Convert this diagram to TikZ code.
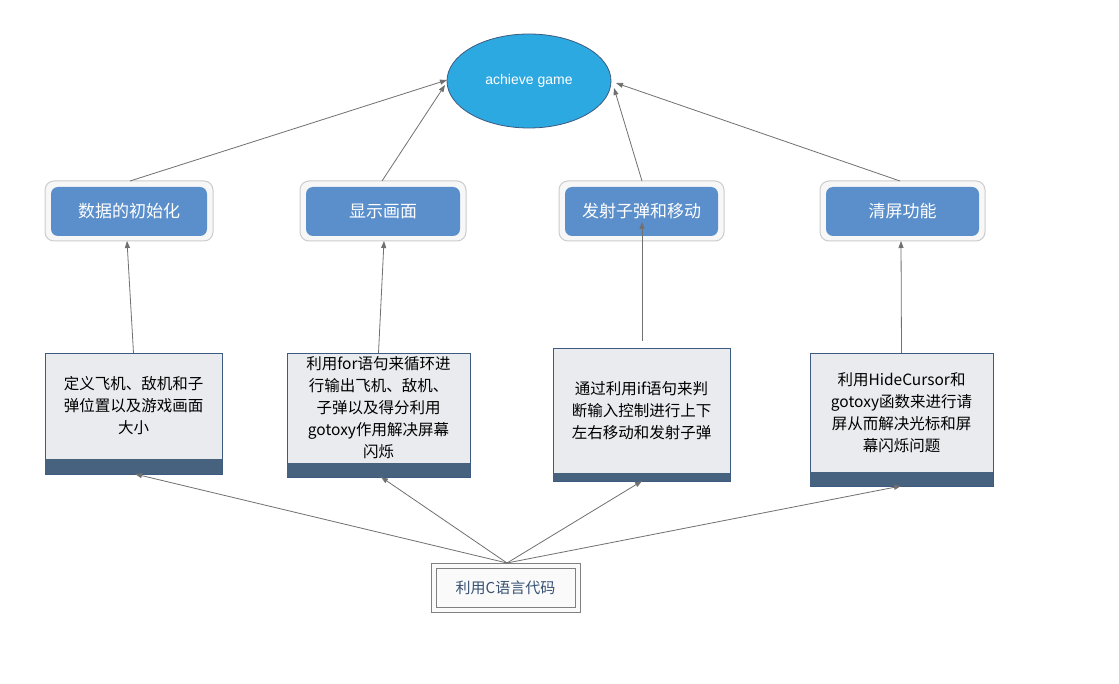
\documentclass[tikz,border=0pt]{standalone}
\usepackage{fontspec}
\setmainfont{Liberation Sans}
\newfontfamily\cjk{Noto Sans CJK SC}
\usetikzlibrary{shapes.geometric,arrows.meta}
\definecolor{hblue}{HTML}{5B8FCB}
\definecolor{ebl}{HTML}{2DA9E1}
\definecolor{lfill}{HTML}{E9EBEF}
\definecolor{lbord}{HTML}{3D5A80}
\definecolor{lbar}{HTML}{46627F}
\definecolor{lgray}{HTML}{707070}
\tikzset{
 conn/.style={draw=lgray,line width=0.8pt,-{Triangle[length=7pt,width=5pt]}},
 hdr/.style={draw=none,fill=hblue,rounded corners=7pt,text=white,font=\cjk\fontsize{17}{20}\selectfont},
}
\begin{document}
\begin{tikzpicture}[x=1pt,y=-1pt]
\useasboundingbox (0,0) rectangle (1119,684);
\fill[white] (0,0) rectangle (1119,684);
% ellipse
\node[ellipse,draw=lbord,fill=ebl,minimum width=164pt,minimum height=94pt,text=white,font=\fontsize{14}{16}\selectfont,line width=0.8pt] (goal) at (529,81) {achieve game};
% header boxes
\foreach \n/\a/\b/\t in {h1/45/213/数据的初始化,h2/300/466/显示画面,h3/559/724/发射子弹和移动,h4/820/985/清屏功能}{
 \draw[draw=gray!40,fill=gray!6,rounded corners=9pt,line width=1pt] (\a,181) rectangle (\b,241);
 \node[hdr,minimum width={\b-\a-12},minimum height=49pt] (\n) at ({(\a+\b)/2},211.5) {\t};
 \coordinate (\n t) at ({(\a+\b)/2},181);
}
% lower boxes
\newcommand\lbox[7]{%
 \draw[draw=lbord,fill=lfill,line width=0.8pt] (#2,#3) rectangle (#4,#5);
 \fill[lbar] (#2,#6) rectangle (#4,#5);
 \node[align=center,font=\cjk\fontsize{15.5}{22}\selectfont,inner sep=0pt] (#1) at ({(#2+#4)/2},{(#3+#6)/2}) {#7};
 \coordinate (#1t) at ({(#2+#4)/2},#3);
 \coordinate (#1b) at ({(#2+#4)/2},#5);
}
\lbox{l1}{45}{353}{222}{474}{459}{定义飞机、敌机和子\\弹位置以及游戏画面\\大小}
\lbox{l2}{287}{353}{470}{477}{463}{利用for语句来循环进\\行输出飞机、敌机、\\子弹以及得分利用\\gotoxy作用解决屏幕\\闪烁}
\lbox{l3}{553}{348}{730}{481}{473}{通过利用if语句来判\\断输入控制进行上下\\左右移动和发射子弹}
\lbox{l4}{810}{353}{993}{486}{472}{利用HideCursor和\\gotoxy函数来进行请\\屏从而解决光标和屏\\幕闪烁问题}
% bottom node
\draw[draw=gray,fill=gray!4,line width=0.8pt] (431,563) rectangle (580,612);
\node[draw=gray,line width=0.6pt,minimum width=139pt,minimum height=39pt,text=lbord!90!black,font=\cjk\fontsize{15}{18}\selectfont] (src) at (505.5,587.5) {利用C语言代码};
\coordinate (srct) at (507,563);
% connectors
\draw[conn] (l1t) -- (127,241);
\draw[conn] (l2t) -- (384,241);
\draw[conn] (642,341) -- (642,222);
\draw[conn] (l4t) -- (901,241);
\draw[conn] (130,181) -- (447,80);
\draw[conn] (382,181) -- (445,85);
\draw[conn] (642,181) -- (614,88);
\draw[conn] (900,181) -- (616,83);
\draw[conn] (srct) -- (135,474);
\draw[conn] (srct) -- (381,477);
\draw[conn] (srct) -- (642,481);
\draw[conn] (srct) -- (901,486);
\end{tikzpicture}
\end{document}
